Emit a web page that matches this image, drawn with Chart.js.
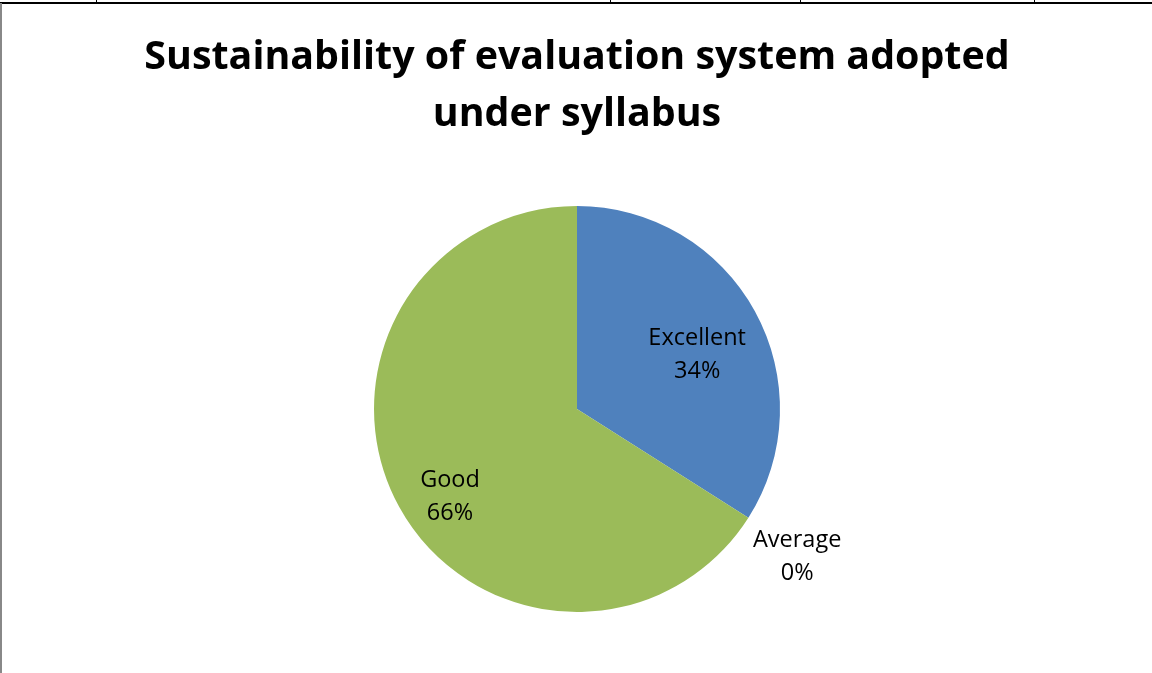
<!DOCTYPE html>
<html>
<head>
<meta charset="utf-8">
<script src="https://cdn.jsdelivr.net/npm/chart.js@4.4.0/dist/chart.umd.min.js"></script>
<style>
    html, body { margin: 0; padding: 0; background: #fff; }
    #frame { position: relative; width: 1152px; height: 673px; overflow: hidden; }
    #frame .topline { position: absolute; left: 0; top: 2px; width: 1152px; height: 2px; background: #000; }
    #frame .leftline { position: absolute; left: 0; top: 3px; width: 2px; height: 670px; background: #888; }
    #frame .tick { position: absolute; top: 0; width: 1px; height: 3px; background: #000; }
    #chart-wrap { position: absolute; left: 0; top: 0; width: 1152px; height: 673px; }
</style>
</head>
<body>
<div id="frame">
    <div id="chart-wrap"><canvas id="evaluation-pie"></canvas></div>
    <div class="topline"></div>
    <div class="leftline"></div>
    <div class="tick" style="left:96px"></div>
    <div class="tick" style="left:610px"></div>
    <div class="tick" style="left:800px"></div>
    <div class="tick" style="left:1034px"></div>
</div>
<script>
// Chart data
const titleLines = ['Sustainability of evaluation system adopted', 'under syllabus'];
const categories = ['Excellent', 'Average', 'Good'];
const percentages = [34, 0, 66];
const sliceColors = ['#4F81BD', '#C0504D', '#9BBB59'];
// label placement: fraction of radius, and a small angle nudge (degrees)
const labelRadius = [0.65, 1.305, 0.76];
const labelNudge = [4.4, 1.4, -5.8];

// Draws "Category\nxx%" labels like the Excel data labels
const sliceLabels = {
    id: 'sliceLabels',
    afterDatasetsDraw(chart) {
        const ctx = chart.ctx;
        const meta = chart.getDatasetMeta(0);
        ctx.save();
        ctx.font = '23.5px "Open Sans", sans-serif';
        ctx.fillStyle = '#000';
        ctx.textAlign = 'center';
        ctx.textBaseline = 'middle';
        meta.data.forEach((arc, i) => {
            const props = arc.getProps(['x', 'y', 'startAngle', 'endAngle', 'outerRadius']);
            const mid = (props.startAngle + props.endAngle) / 2 + labelNudge[i] * Math.PI / 180;
            const r = props.outerRadius * labelRadius[i];
            const x = props.x + Math.cos(mid) * r;
            const y = props.y + Math.sin(mid) * r;
            ctx.fillText(categories[i], x, y - 16);
            ctx.fillText(percentages[i] + '%', x, y + 17);
        });
        ctx.restore();
    }
};

document.addEventListener('DOMContentLoaded', () => {
    const ctx = document.getElementById('evaluation-pie').getContext('2d');

    new Chart(ctx, {
        type: 'pie',
        data: {
            labels: categories,
            datasets: [{
                data: percentages,
                backgroundColor: sliceColors,
                borderWidth: 0,
            }]
        },
        options: {
            responsive: true,
            maintainAspectRatio: false,
            animation: false,
            layout: {
                padding: { top: 10, bottom: 61, left: 2, right: 0 }
            },
            plugins: {
                legend: { display: false },
                tooltip: { enabled: false },
                title: {
                    display: true,
                    text: titleLines,
                    color: '#000',
                    font: { family: '"Open Sans", sans-serif', size: 39.4, weight: 'bold', lineHeight: 1.447 },
                    padding: { top: 19, bottom: 63 }
                }
            }
        },
        plugins: [sliceLabels]
    });
});
</script>
</body>
</html>
